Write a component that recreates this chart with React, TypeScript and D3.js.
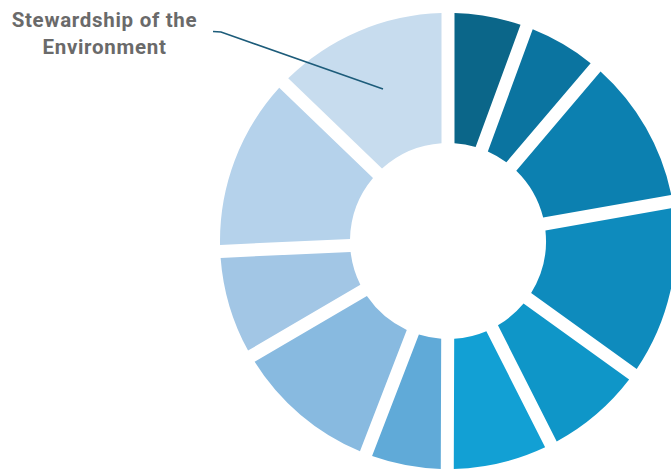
import React from "react";
import * as d3 from "d3";

const categories = [
  "Segment 1",
  "Segment 2",
  "Segment 3",
  "Segment 4",
  "Segment 5",
  "Segment 6",
  "Segment 7",
  "Segment 8",
  "Segment 9",
  "Segment 10",
  "Stewardship of the Environment",
];
const values = [5.6, 5.6, 11.0, 12.7, 7.6, 7.5, 5.8, 10.7, 7.7, 12.9, 12.8];
const colors = [
  "#0b6689",
  "#0b74a0",
  "#0c80b0",
  "#0e8bbd",
  "#0f96c8",
  "#12a0d4",
  "#60aad8",
  "#88bae0",
  "#a2c6e5",
  "#b5d2eb",
  "#c7dcee",
];
const labelLines = ["Stewardship of the", "Environment"];

const W = 671;
const H = 470;
const CX = 448;
const CY = 241;
const R_OUT = 228;
const R_IN = 98;

export default function App() {
  const pie = d3
    .pie<number>()
    .sort(null)
    .value((d) => d);
  const arcs = pie(values);
  const arcGen = d3
    .arc<d3.PieArcDatum<number>>()
    .innerRadius(R_IN)
    .outerRadius(R_OUT)
    .padAngle(0.13)
    .padRadius(100);

  return (
    <svg
      width={W}
      height={H}
      style={{ position: "absolute", left: 0, top: 0, background: "#fff" }}
    >
      <g transform={`translate(${CX},${CY})`}>
        {arcs.map((a, i) => (
          <path key={categories[i]} d={arcGen(a) || ""} fill={colors[i]} />
        ))}
      </g>
      <polyline
        points="213,31.5 221,32 383,89"
        fill="none"
        stroke="#1d5c7a"
        strokeWidth={1.6}
      />
      <text
        textAnchor="middle"
        fontFamily="Roboto, 'Noto Sans', sans-serif"
        fontWeight={700}
        fontSize={20.5}
        letterSpacing={0.7}
        fill="#6a6a6a"
      >
        <tspan x={104.5} y={27}>
          {labelLines[0]}
        </tspan>
        <tspan x={104.5} y={54}>
          {labelLines[1]}
        </tspan>
      </text>
    </svg>
  );
}
